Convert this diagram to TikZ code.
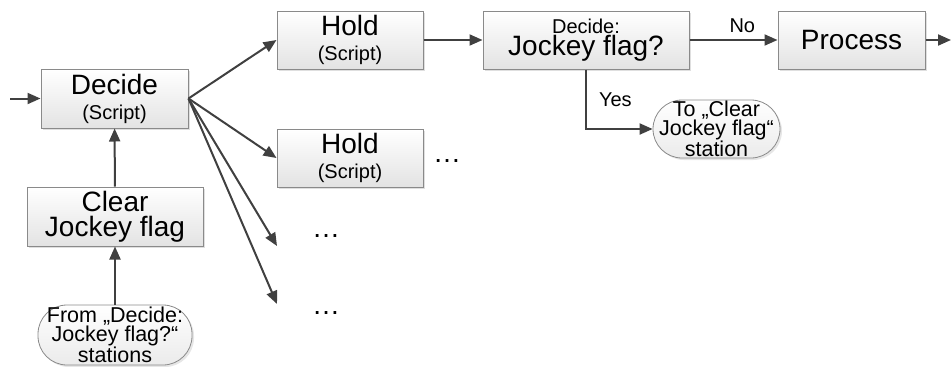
\documentclass[tikz,border=0pt]{standalone}
\usepackage{fontspec}
\setmainfont{Liberation Sans}
\usetikzlibrary{positioning,arrows.meta,shadows}

\definecolor{linegray}{HTML}{404040}
\definecolor{boxedge}{HTML}{8A8A8A}

\begin{document}
\begin{tikzpicture}[
  x=1pt, y=-1pt,
  every node/.style={font=\fontsize{28}{25}\selectfont, align=center, inner sep=0pt},
  block/.style={rectangle, draw=boxedge, line width=1pt, top color=white, bottom color=black!11,
    drop shadow={shadow xshift=2pt, shadow yshift=-2pt, opacity=0.25, fill=black!50},
    minimum width=146pt, minimum height=58pt},
  terminal/.style={rectangle, rounded corners=29pt, draw=boxedge, line width=0.8pt,
    top color=white, bottom color=black!8,
    drop shadow={shadow xshift=2pt, shadow yshift=-2pt, opacity=0.2, fill=black!50},
    font=\fontsize{21.5}{18.5}\selectfont},
  flow/.style={draw=linegray, line width=2pt, -{Triangle[length=13pt,width=11pt]}},
  lbl/.style={font=\fontsize{20}{20}\selectfont},
  more/.style={font=\fontsize{28}{28}\selectfont, anchor=base}
]
\useasboundingbox (0,0) rectangle (951,367);

% left column
\node[block, minimum width=147pt, minimum height=59pt] (decide) at (114.5,98.5)
  {Decide\\{\fontsize{20}{25}\selectfont (Script)}};
\node[block, minimum width=176pt, minimum height=59pt] (clear) at (115,216.5)
  {Clear\\Jockey flag};
\node[terminal, minimum width=154pt, minimum height=60pt] (from) at (115,335)
  {From „Decide:\\Jockey flag?“\\stations};

% hold stations
\node[block] (hold1) at (350,40) {Hold\\{\fontsize{20}{25}\selectfont (Script)}};
\node[block] (hold2) at (350,158) {Hold\\{\fontsize{20}{25}\selectfont (Script)}};
\node[more] (moreC) at (447,162) {…};
\node[more] (moreA) at (326,237) {…};
\node[more] (moreB) at (326,314) {…};

% decision and processing
\node[block, minimum width=206pt] (ask) at (586,40)
  {{\fontsize{20}{20}\selectfont Decide:}\\[-3pt]Jockey flag?};
\node[block, minimum width=147pt] (process) at (851.5,40) {Process};
\node[terminal, minimum width=127pt, minimum height=58pt] (toclear) at (716.5,129)
  {To „Clear\\Jockey flag“\\station};

\coordinate (entry) at (10,98.5);
\coordinate (exit) at (951,40);
\coordinate (branchA) at (277,246);
\coordinate (branchB) at (277,304);

\draw[flow] (entry) -- (decide);
\draw[flow] (from) -- (clear);
\draw[flow] (clear) -- (decide);
\draw[flow] (decide.east) -- (hold1.west);
\draw[flow] (decide.east) -- (hold2.west);
\draw[flow] (decide.east) -- (branchA);
\draw[flow] (decide.east) -- (branchB);
\draw[flow] (hold1) -- (ask);
\draw[flow] (ask) -- node[lbl, above=6pt, pos=0.6] {No} (process);
\draw[flow] (ask.south) -- node[lbl, right=12pt] {Yes} (ask.south |- toclear.west) -- (toclear.west);
\draw[flow] (process) -- (exit);
\end{tikzpicture}
\end{document}
